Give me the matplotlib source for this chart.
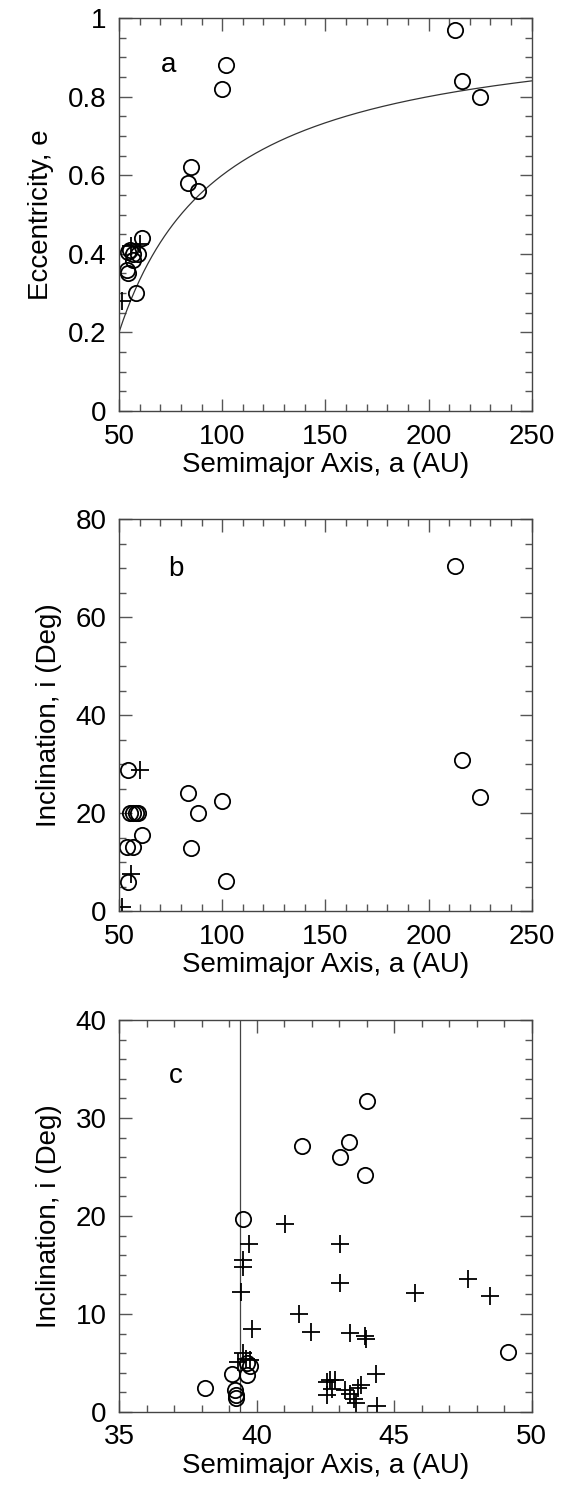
import numpy as np
import matplotlib
matplotlib.use("Agg")
import matplotlib.pyplot as plt
from matplotlib.ticker import MultipleLocator

plt.rcParams['font.family'] = ['Liberation Sans', 'DejaVu Sans']

# panel a / b: scattered objects (circles) and others (crosses)
a_circ = [213, 216, 225, 100, 102, 84.7, 83.6, 88.3, 61.0, 55.3, 54.5, 56.6,
          59.4, 57.0, 54.0, 54.5, 58.4]
e_circ = [0.97, 0.84, 0.80, 0.82, 0.88, 0.62, 0.58, 0.56, 0.44, 0.41, 0.405,
          0.40, 0.40, 0.385, 0.36, 0.35, 0.30]
i_circ = [70.5, 30.8, 23.3, 22.4, 6.1, 12.8, 24.1, 19.9, 15.6, 19.9, 28.8,
          19.9, 19.9, 13.1, 13.1, 6.0, 19.9]
a_plus = [51.3, 55.7, 60.0]
e_plus = [0.28, 0.42, 0.425]
i_plus = [0.8, 7.5, 28.8]

# perihelion q = 40 AU curve
q_peri = 40.0

# panel c: classical belt
c_circ_a = [39.49, 41.64, 43.35, 43.04, 43.93, 44.0, 49.13, 39.64, 39.75, 39.64,
            39.12, 39.2, 39.26, 38.13, 39.24]
c_circ_i = [19.7, 27.1, 27.6, 26.0, 24.2, 31.7, 6.1, 5.0, 4.7, 3.8,
            3.9, 2.2, 1.7, 2.5, 1.4]
c_plus_a = [41.04, 39.71, 43.02, 39.49, 39.50, 39.44, 43.05, 41.53, 39.83, 41.97,
            43.38, 43.95, 43.97, 45.75, 47.7, 48.47, 44.35, 39.52, 39.60, 39.34,
            39.76, 42.56, 42.56, 42.68, 42.86, 42.74, 43.53, 43.6, 43.7, 43.8,
            44.38, 43.2, 43.4]
c_plus_i = [19.2, 17.1, 17.1, 15.5, 14.8, 12.2, 13.2, 10.0, 8.5, 8.2,
            8.1, 7.8, 7.45, 12.1, 13.6, 11.8, 3.9, 6.0, 5.4, 5.1,
            5.3, 3.1, 1.7, 3.3, 3.3, 2.3, 1.3, 0.9, 2.5, 2.8,
            0.6, 2.2, 1.8]
a_res = 39.4

W, H = 568, 1494
fig = plt.figure(figsize=(W / 100, H / 100), dpi=100)
fs = 20

def make_axes(top, bottom):
    ax = fig.add_axes([119 / W, 1 - bottom / H, 412.7 / W, (bottom - top) / H])
    for s in ax.spines.values():
        s.set_color('#444444')
        s.set_linewidth(1.0)
    ax.tick_params(which='both', direction='in', top=True, right=True,
                   colors='#555555', labelcolor='black', labelsize=fs)
    ax.tick_params(which='major', length=9, width=1.0)
    ax.tick_params(which='minor', length=5, width=1.0)
    ax.tick_params(axis='x', which='major', pad=9)
    ax.tick_params(axis='y', which='major', pad=9)
    return ax

circ = dict(ls='none', marker='o', ms=11, mfc='none', mec='black', mew=1.3)
plus = dict(ls='none', marker='+', ms=13, mec='black', mew=1.3)

# panel a
ax1 = make_axes(18, 411)
xx = np.linspace(50, 250, 300)
ax1.plot(xx, 1 - q_peri / xx, color='#333333', lw=0.9)
ax1.plot(a_circ, e_circ, **circ)
ax1.plot(a_plus, e_plus, **plus)
ax1.set_xlim(50, 250)
ax1.set_ylim(0, 1)
ax1.xaxis.set_major_locator(MultipleLocator(50))
ax1.xaxis.set_minor_locator(MultipleLocator(10))
ax1.yaxis.set_minor_locator(MultipleLocator(0.05))
ax1.set_yticks([0, 0.2, 0.4, 0.6, 0.8, 1.0])
ax1.set_yticklabels(['0', '0.2', '0.4', '0.6', '0.8', '1'])
ax1.set_xlabel('Semimajor Axis, a (AU)', fontsize=fs)
ax1.set_ylabel('Eccentricity, e', fontsize=fs)
ax1.text(73.8, 0.88, 'a', fontsize=fs, ha='center', va='center')

# panel b
ax2 = make_axes(519, 911)
ax2.plot(a_circ, i_circ, **circ)
ax2.plot(a_plus, i_plus, **plus)
ax2.set_xlim(50, 250)
ax2.set_ylim(0, 80)
ax2.xaxis.set_major_locator(MultipleLocator(50))
ax2.xaxis.set_minor_locator(MultipleLocator(10))
ax2.yaxis.set_major_locator(MultipleLocator(20))
ax2.yaxis.set_minor_locator(MultipleLocator(5))
ax2.set_xlabel('Semimajor Axis, a (AU)', fontsize=fs)
ax2.set_ylabel('Inclination, i (Deg)', fontsize=fs)
ax2.text(77.6, 69.8, 'b', fontsize=fs, ha='center', va='center')

# panel c
ax3 = make_axes(1020, 1412)
ax3.axvline(a_res, color='#444444', lw=0.9)
ax3.plot(c_circ_a, c_circ_i, **circ)
ax3.plot(c_plus_a, c_plus_i, **plus)
ax3.set_xlim(35, 50)
ax3.set_ylim(0, 40)
ax3.xaxis.set_major_locator(MultipleLocator(5))
ax3.xaxis.set_minor_locator(MultipleLocator(1))
ax3.yaxis.set_major_locator(MultipleLocator(10))
ax3.yaxis.set_minor_locator(MultipleLocator(2))
ax3.set_xlabel('Semimajor Axis, a (AU)', fontsize=fs)
ax3.set_ylabel('Inclination, i (Deg)', fontsize=fs)
ax3.text(37.07, 34.3, 'c', fontsize=fs, ha='center', va='center')

for ax in (ax1, ax2, ax3):
    ax.xaxis.labelpad = 2
    ax.yaxis.labelpad = 10

fig.savefig('out.png', dpi=100)
